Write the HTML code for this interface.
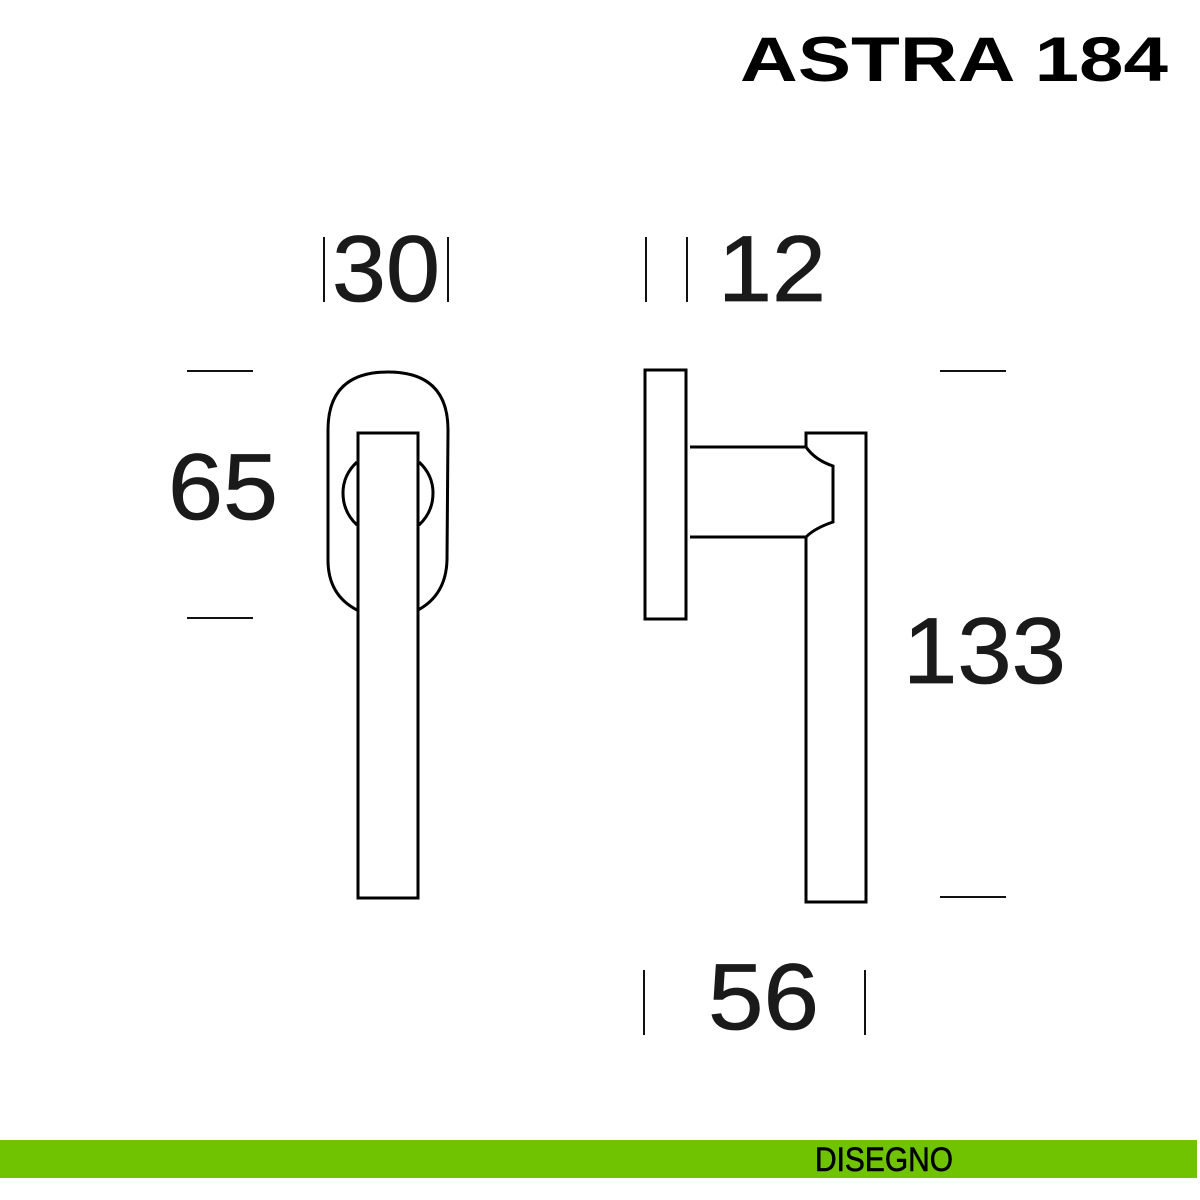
<!DOCTYPE html>
<html><head><meta charset="utf-8"><style>
html,body{margin:0;padding:0;background:#fff;width:1200px;height:1200px;overflow:hidden}
svg{display:block}
</style></head><body>
<svg width="1200" height="1200" viewBox="0 0 1200 1200" xmlns="http://www.w3.org/2000/svg">
<rect width="1200" height="1200" fill="#fff"/>
<text x="740" y="81" font-family="Liberation Sans, sans-serif" font-weight="bold" font-size="70" textLength="428" lengthAdjust="spacingAndGlyphs" fill="#000" transform="translate(0,8) scale(1,0.9)">ASTRA 184</text>
<g font-family="Liberation Sans, sans-serif" font-size="94" fill="#1a1a1a" stroke="#1a1a1a" stroke-width="0.8">
<text x="332" y="301" textLength="108" lengthAdjust="spacingAndGlyphs">30</text>
<text x="718" y="301" textLength="108" lengthAdjust="spacingAndGlyphs">12</text>
<text x="168" y="519" textLength="110" lengthAdjust="spacingAndGlyphs">65</text>
<text x="903" y="683" textLength="163" lengthAdjust="spacingAndGlyphs">133</text>
<text x="708" y="1029" textLength="111" lengthAdjust="spacingAndGlyphs">56</text>
</g>
<g stroke="#111" stroke-width="2" fill="none">
<line x1="324" y1="237" x2="324" y2="302"/><line x1="448" y1="237" x2="448" y2="302"/>
<line x1="646" y1="237" x2="646" y2="302"/><line x1="687" y1="237" x2="687" y2="302"/>
<line x1="644" y1="970" x2="644" y2="1035"/><line x1="865" y1="970" x2="865" y2="1035"/>
<line x1="187" y1="371" x2="253" y2="371"/><line x1="187" y1="618" x2="253" y2="618"/>
<line x1="940" y1="371" x2="1006" y2="371"/><line x1="940" y1="897" x2="1006" y2="897"/>
</g>
<g stroke="#000" stroke-width="3" fill="none">
<path d="M357 610 Q328 595 328 560 L328 430 Q328 372 388 372 Q448 372 448 430 L447 560 Q446 595 418 610"/>
<path d="M357 462 Q343 475 343 493 Q343 512 357 525"/>
<path d="M419 462 Q433 475 433 493 Q433 512 419 525"/>
<rect x="358" y="433" width="60" height="465" fill="#fff"/>
<rect x="645" y="370" width="41" height="249"/>
<line x1="690" y1="447" x2="805" y2="447"/>
<line x1="690" y1="537" x2="806" y2="537"/>
<path d="M806 537 L806 902 L866 902 L866 433 L806 433 L806 447 Q815 460 833 466 L833 522 Q815 528 806 537"/>
</g>
<rect x="0" y="1140" width="1197" height="38" fill="#6fc300"/>
<text x="815" y="1171" font-family="Liberation Sans, sans-serif" font-size="34" textLength="138" lengthAdjust="spacingAndGlyphs" fill="#000" stroke="#000" stroke-width="0.6">DISEGNO</text>
</svg>
</body></html>
